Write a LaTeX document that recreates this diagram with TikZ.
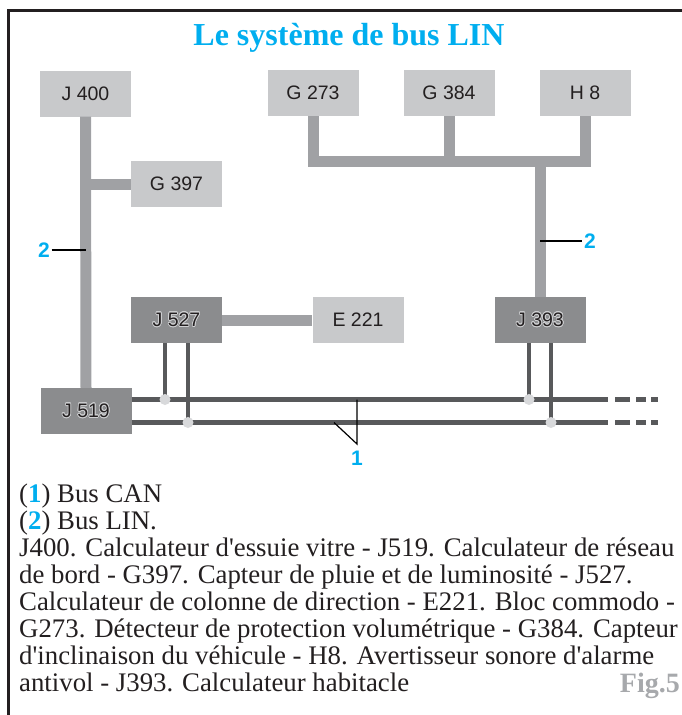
\documentclass[tikz,border=0pt]{standalone}
\usepackage{fontspec}
\usepackage[copies]{contour}
\contourlength{0.7pt}
\contournumber{16}
\setmainfont{Liberation Serif}
\newfontfamily\arialf{Liberation Sans}
\newcommand\aps{\textquotesingle}
\definecolor{boxlight}{HTML}{C8C9CB}
\definecolor{boxdark}{HTML}{8B8C8E}
\definecolor{lincol}{HTML}{A0A1A4}
\definecolor{cancol}{HTML}{58595B}
\definecolor{dotcol}{HTML}{D8D9DB}
\definecolor{bluec}{HTML}{00AEEF}
\definecolor{txt}{HTML}{231F20}
\definecolor{halo}{HTML}{D0D1D3}
\definecolor{figgray}{HTML}{A7A9AC}
\newcommand\halotext[1]{\contour{halo}{#1}}
\begin{document}
\begin{tikzpicture}[x=1pt,y=-1pt,
  box/.style={rectangle, minimum width=91pt, minimum height=46pt, inner sep=0pt,
    font=\arialf\fontsize{19.5}{21}\selectfont, text=txt},
  lbox/.style={box, fill=boxlight},
  dbox/.style={box, fill=boxdark},
  lin/.style={line width=11pt, color=lincol},
  can/.style={line width=5pt, color=cancol},
  drop/.style={line width=4.5pt, color=cancol},
  dot/.style={circle, fill=dotcol, minimum size=11pt, inner sep=0pt},
  leader/.style={line width=1.2pt, color=black},
  num/.style={font=\arialf\bfseries\fontsize{21}{21}\selectfont, text=bluec, inner sep=0pt},
  desc/.style={anchor=base west, inner sep=0pt, font=\fontsize{26.8}{27}\selectfont, text=txt}
]
\useasboundingbox (0,0) rectangle (682,715);
% frame
\draw[line width=2.5pt, color=txt] (8.6,715) -- (8.6,10.3) -- (682,10.3);
% title
\node[anchor=base, inner sep=0pt, text=bluec, font=\bfseries\fontsize{32}{32}\selectfont] (title) at (349,45) {Le système de bus LIN};

% boxes
\node[lbox] (J400) at (85.5,93.5) {J 400};
\node[lbox] (G273) at (313,93) {G 273};
\node[lbox] (G384) at (449,93) {G 384};
\node[lbox] (H8) at (585,93) {H 8};
\node[lbox] (G397) at (176.5,184) {G 397};
\node[dbox] (J527) at (176.5,320) {\halotext{J 527}};
\node[lbox] (E221) at (358,320) {E 221};
\node[dbox] (J393) at (540,320) {\halotext{J 393}};
\node[dbox] (J519) at (86,411) {\halotext{J 519}};

% LIN bus
\coordinate (topL) at (313,161.5);
\coordinate (topM) at (449,161.5);
\coordinate (topR) at (540,161.5);
\coordinate (g397j) at (86,184);
\coordinate (lin2l) at (86,250);
\coordinate (lin2r) at (540,241);
\draw[lin] (J400.south) -- (J519.north);
\draw[lin] (g397j) -- (G397.west);
\draw[lin, line join=miter] (G273.south) -- (topL) -| (H8.south);
\draw[lin] (G384.south) -- (topM);
\draw[lin] (topR) -- (J393.north);
\draw[lin] (J527.east) -- (E221.west);

% CAN bus
\coordinate (c1) at (165,399.5);
\coordinate (c2) at (188,422.5);
\coordinate (c3) at (529,399.5);
\coordinate (c4) at (551,422.5);
\coordinate (eu) at (608,399.5);
\coordinate (el) at (608,422.5);
\coordinate (du) at (615,399.5);
\coordinate (dl) at (615,422.5);
\coordinate (fu) at (658,399.5);
\coordinate (fl) at (658,422.5);
\draw[can] (J519.east |- c1) -- (eu);
\draw[can] (J519.east |- c2) -- (el);
\draw[can, dash pattern=on 15pt off 6pt on 10pt off 5pt on 7pt] (du) -- (fu);
\draw[can, dash pattern=on 15pt off 6pt on 10pt off 5pt on 7pt] (dl) -- (fl);
\draw[drop] (c1 |- J527.south) -- (c1);
\draw[drop] (c2 |- J527.south) -- (c2);
\draw[drop] (c3 |- J393.south) -- (c3);
\draw[drop] (c4 |- J393.south) -- (c4);
\node[dot] (d1) at (c1) {};
\node[dot] (d2) at (c2) {};
\node[dot] (d3) at (c3) {};
\node[dot] (d4) at (c4) {};

% label 1
\coordinate (l1a) at (357,399.5);
\coordinate (l1b) at (334,422.5);
\coordinate (l1t) at (357,444);
\draw[leader] (l1a) -- (l1t) -- (l1b);
\node[num, anchor=north] (n1) at (357,451) {1};

% labels 2
\node[num] (n2l) at (44,250) {2};
\draw[leader] ([xshift=1.5pt]n2l.east) -- (lin2l);
\node[num] (n2r) at (590,241) {2};
\draw[leader] (lin2r) -- ([xshift=-1.5pt]n2r.west);

% legend text
\node[desc] (t1) at (19,502) {(\textcolor{bluec}{\textbf{1}}) Bus CAN};
\node[desc] (t2) at (19,529) {(\textcolor{bluec}{\textbf{2}}) Bus LIN.};
\node[desc] (t3) at (19,556) {J400. Calculateur d\aps essuie vitre - J519. Calculateur de réseau};
\node[desc] (t4) at (19,583) {de bord - G397. Capteur de pluie et de luminosité - J527.};
\node[desc] (t5) at (19,610) {Calculateur de colonne de direction - E221. Bloc commodo -};
\node[desc] (t6) at (19,637) {G273. Détecteur de protection volumétrique - G384. Capteur};
\node[desc] (t7) at (19,664) {d\aps inclinaison du véhicule - H8. Avertisseur sonore d\aps alarme};
\node[desc] (t8) at (19,691) {antivol - J393. Calculateur habitacle};
\node[anchor=base east, inner sep=0pt, text=figgray, font=\bfseries\fontsize{28}{28}\selectfont] (fig) at (680,692) {Fig.5};
\end{tikzpicture}
\end{document}
